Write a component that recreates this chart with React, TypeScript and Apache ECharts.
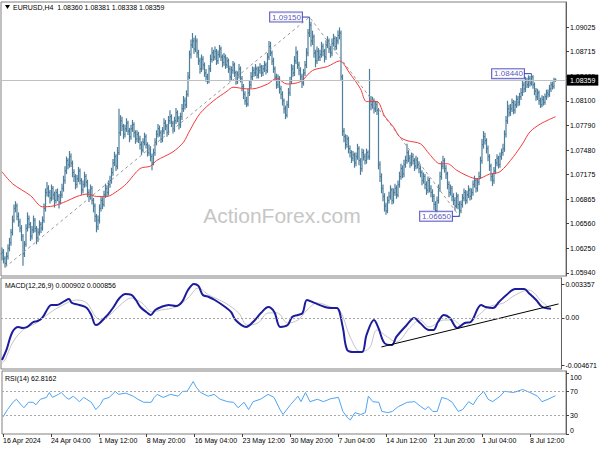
import React, { useEffect, useRef } from "react";
import * as echarts from "echarts";

const FONT = "'Liberation Sans', Arial, sans-serif";

// ---- time axis (bar index -> label) ----
const timeLabelIdx = [0, 32, 64, 96, 128, 160, 192, 224, 256, 288, 320, 352];
const timeLabels = [
  "16 Apr 2024", "24 Apr 04:00", "1 May 12:00", "8 May 20:00", "16 May 04:00", "23 May 12:00",
  "30 May 20:00", "7 Jun 04:00", "14 Jun 12:00", "21 Jun 20:00", "1 Jul 04:00", "8 Jul 12:00",
];

// ---- axis tick labels ----
const priceTicks = [1.09025, 1.08715, 1.08405, 1.081, 1.0779, 1.0748, 1.07175, 1.06865, 1.0656, 1.0625, 1.0594];
const macdTicks = [0.003357, 0, -0.004671];
const rsiTicks = [0, 30, 70, 100];

// ---- EURUSD H4 bars (open = previous close) ----
const firstOpen = 1.0618;
const closes = [
  1.0620, 1.0612, 1.0606, 1.0615, 1.0625,
  1.0632, 1.0645, 1.0660, 1.0675, 1.0678, 1.0665, 1.0658, 1.0650,
  1.0640, 1.0618, 1.0630, 1.0650, 1.0662, 1.0655, 1.0640, 1.0648, 1.0660, 1.0650, 1.0638, 1.0645, 1.0655, 1.0650, 1.0660,
  1.0675, 1.0695, 1.0700,
  1.0695, 1.0688, 1.0700, 1.0692, 1.0685, 1.0695, 1.0690, 1.0683, 1.0692, 1.0700,
  1.0710, 1.0722, 1.0735, 1.0730, 1.0740, 1.0732, 1.0720,
  1.0715, 1.0705, 1.0712, 1.0722, 1.0710, 1.0698, 1.0705, 1.0715, 1.0708, 1.0695, 1.0690, 1.0700, 1.0685, 1.0678,
  1.0665, 1.0652, 1.0660,
  1.0675, 1.0685, 1.0680, 1.0692, 1.0700, 1.0695, 1.0705, 1.0710,
  1.0720, 1.0732, 1.0740, 1.0728, 1.0745,
  1.0770, 1.0785, 1.0778, 1.0768, 1.0775, 1.0782, 1.0772, 1.0765, 1.0775, 1.0780, 1.0770, 1.0762, 1.0768,
  1.0762, 1.0755, 1.0748, 1.0758, 1.0765, 1.0755, 1.0745, 1.0750, 1.0740, 1.0732, 1.0745,
  1.0758, 1.0768, 1.0775, 1.0770, 1.0762, 1.0772, 1.0782, 1.0778, 1.0770, 1.0785, 1.0790, 1.0782, 1.0775, 1.0785, 1.0795, 1.0788, 1.0780, 1.0790,
  1.0800, 1.0810, 1.0805, 1.0818,
  1.0840, 1.0868, 1.0880, 1.0885,
  1.0875, 1.0885, 1.0870,
  1.0860, 1.0850, 1.0862, 1.0855, 1.0845, 1.0840, 1.0835,
  1.0850, 1.0862, 1.0870, 1.0865, 1.0872, 1.0860, 1.0868, 1.0875, 1.0865, 1.0858, 1.0865, 1.0855, 1.0860,
  1.0850, 1.0840, 1.0848, 1.0855, 1.0845, 1.0835, 1.0842, 1.0850, 1.0838,
  1.0828, 1.0818, 1.0810, 1.0806, 1.0820, 1.0830,
  1.0840, 1.0848, 1.0845, 1.0850, 1.0842, 1.0848, 1.0852, 1.0845, 1.0850, 1.0855, 1.0848,
  1.0865, 1.0878, 1.0870, 1.0860,
  1.0850, 1.0840, 1.0830, 1.0838, 1.0825, 1.0818, 1.0810, 1.0800, 1.0792, 1.0805,
  1.0820, 1.0835, 1.0850, 1.0845, 1.0860, 1.0870, 1.0855, 1.0848,
  1.0840, 1.0832, 1.0845, 1.0855, 1.0870,
  1.0895, 1.0905, 1.0885,
  1.0890, 1.0870, 1.0860, 1.0872, 1.0865,
  1.0868, 1.0878, 1.0872, 1.0865, 1.0880, 1.0885, 1.0875, 1.0870, 1.0882, 1.0888, 1.0878, 1.0885, 1.0892, 1.0895,
  1.0840, 1.0772,
  1.0765, 1.0755, 1.0762, 1.0750, 1.0745, 1.0738, 1.0742, 1.0732, 1.0740, 1.0750, 1.0735, 1.0725, 1.0745,
  1.0740, 1.0735, 1.0745, 1.0740,
  1.0810,
  1.0805, 1.0810, 1.0800, 1.0805, 1.0798,
  1.0730,
  1.0715, 1.0700, 1.0690, 1.0678, 1.0672, 1.0685,
  1.0690, 1.0698, 1.0685, 1.0695, 1.0700, 1.0692,
  1.0705, 1.0715, 1.0725, 1.0718, 1.0730, 1.0735, 1.0745,
  1.0738, 1.0732, 1.0740, 1.0735, 1.0728, 1.0736, 1.0730, 1.0725,
  1.0720, 1.0710, 1.0715, 1.0705, 1.0698, 1.0710, 1.0700, 1.0695, 1.0690,
  1.0680, 1.0672, 1.0685,
  1.0700, 1.0715, 1.0728, 1.0735, 1.0725, 1.0718,
  1.0705, 1.0695, 1.0700, 1.0690, 1.0685, 1.0678, 1.0690, 1.0680, 1.0672,
  1.0680, 1.0688, 1.0695, 1.0685, 1.0692, 1.0698, 1.0690,
  1.0695, 1.0705, 1.0710, 1.0700, 1.0708, 1.0715,
  1.0735, 1.0755, 1.0765, 1.0760, 1.0750,
  1.0740, 1.0728, 1.0715, 1.0710, 1.0722, 1.0732, 1.0738, 1.0730, 1.0740, 1.0745, 1.0750,
  1.0768, 1.0785, 1.0800, 1.0795,
  1.0800, 1.0808, 1.0798, 1.0805, 1.0812, 1.0808, 1.0815,
  1.0820, 1.0830, 1.0825, 1.0835, 1.0830, 1.0838, 1.0832, 1.0840, 1.0830,
  1.0822, 1.0815, 1.0820, 1.0810, 1.0805, 1.0812, 1.0808,
  1.0815, 1.0820, 1.0818, 1.0825, 1.0830, 1.0828, 1.0836, 1.08359,
];
const highs = [
  1.0626, 1.0624, 1.0615, 1.0620, 1.0630, 1.0638, 1.0649, 1.0666, 1.0680, 1.0684, 1.0681, 1.0670, 1.0662,
  1.0654, 1.0643, 1.0634, 1.0655, 1.0670, 1.0666, 1.0658, 1.0653, 1.0666, 1.0663, 1.0653, 1.0650, 1.0660, 1.0658, 1.0665,
  1.0681, 1.0700, 1.0708,
  1.0704, 1.0698, 1.0705, 1.0703, 1.0696, 1.0699, 1.0700, 1.0693, 1.0697, 1.0706,
  1.0716, 1.0728, 1.0740, 1.0738, 1.0747, 1.0744, 1.0735,
  1.0724, 1.0718, 1.0717, 1.0727, 1.0725, 1.0713, 1.0710, 1.0721, 1.0718, 1.0711, 1.0699, 1.0705, 1.0703, 1.0688,
  1.0681, 1.0668, 1.0666,
  1.0680, 1.0690, 1.0689, 1.0697, 1.0706, 1.0704, 1.0710, 1.0716,
  1.0726, 1.0737, 1.0746, 1.0743, 1.0752,
  1.0800, 1.0792, 1.0790, 1.0781, 1.0780, 1.0788, 1.0785, 1.0776, 1.0780, 1.0786, 1.0783, 1.0773, 1.0773,
  1.0771, 1.0766, 1.0759, 1.0763, 1.0770, 1.0768, 1.0758, 1.0755, 1.0753, 1.0744, 1.0750,
  1.0763, 1.0773, 1.0781, 1.0779, 1.0773, 1.0777, 1.0788, 1.0786, 1.0781, 1.0791, 1.0798, 1.0793, 1.0785, 1.0790, 1.0801, 1.0798, 1.0791, 1.0795,
  1.0806, 1.0816, 1.0814, 1.0823,
  1.0846, 1.0873, 1.0887, 1.0895,
  1.0889, 1.0892, 1.0888,
  1.0874, 1.0864, 1.0868, 1.0866, 1.0858, 1.0850, 1.0844,
  1.0855, 1.0868, 1.0877, 1.0874, 1.0878, 1.0875, 1.0873, 1.0880, 1.0878, 1.0868, 1.0870, 1.0868, 1.0865,
  1.0863, 1.0854, 1.0853, 1.0860, 1.0858, 1.0848, 1.0847, 1.0856, 1.0853,
  1.0841, 1.0831, 1.0822, 1.0815, 1.0825, 1.0836,
  1.0846, 1.0853, 1.0852, 1.0856, 1.0853, 1.0853, 1.0857, 1.0855, 1.0855, 1.0860, 1.0858,
  1.0870, 1.0885, 1.0884, 1.0873,
  1.0864, 1.0853, 1.0844, 1.0843, 1.0841, 1.0829, 1.0822, 1.0813, 1.0804, 1.0810,
  1.0826, 1.0840, 1.0856, 1.0855, 1.0866, 1.0878, 1.0873, 1.0859,
  1.0852, 1.0844, 1.0850, 1.0860, 1.0876,
  1.0900, 1.0915, 1.0909,
  1.0898, 1.0893, 1.0874, 1.0878, 1.0876,
  1.0874, 1.0884, 1.0882, 1.0875, 1.0886, 1.0891, 1.0888, 1.0879, 1.0888, 1.0894, 1.0891, 1.0890, 1.0898, 1.0902,
  1.0898, 1.0843,
  1.0776, 1.0768, 1.0767, 1.0765, 1.0754, 1.0748, 1.0747, 1.0745, 1.0745, 1.0756, 1.0753, 1.0738, 1.0750,
  1.0749, 1.0744, 1.0750, 1.0748,
  1.0850,
  1.0816, 1.0815, 1.0813, 1.0810, 1.0809,
  1.0801,
  1.0734, 1.0719, 1.0705, 1.0694, 1.0682, 1.0690,
  1.0696, 1.0704, 1.0701, 1.0700, 1.0706, 1.0704,
  1.0710, 1.0721, 1.0731, 1.0729, 1.0736, 1.0741, 1.0756,
  1.0748, 1.0742, 1.0745, 1.0744, 1.0738, 1.0741, 1.0739, 1.0734,
  1.0729, 1.0723, 1.0720, 1.0718, 1.0709, 1.0715, 1.0713, 1.0704, 1.0699,
  1.0693, 1.0684, 1.0690,
  1.0705, 1.0721, 1.0734, 1.0741, 1.0738, 1.0729,
  1.0721, 1.0709, 1.0705, 1.0703, 1.0694, 1.0689, 1.0695, 1.0693, 1.0684,
  1.0685, 1.0693, 1.0700, 1.0698, 1.0697, 1.0704, 1.0701,
  1.0700, 1.0710, 1.0716, 1.0713, 1.0713, 1.0721,
  1.0740, 1.0762, 1.0772, 1.0770, 1.0763,
  1.0754, 1.0743, 1.0731, 1.0719, 1.0727, 1.0737, 1.0743, 1.0741, 1.0745, 1.0750, 1.0756,
  1.0773, 1.0791, 1.0810, 1.0805,
  1.0806, 1.0813, 1.0811, 1.0810, 1.0817, 1.0816, 1.0820,
  1.0826, 1.0836, 1.0834, 1.0840, 1.0839, 1.0842, 1.0841, 1.0844, 1.0842,
  1.0833, 1.0826, 1.0825, 1.0823, 1.0814, 1.0817, 1.0816,
  1.0819, 1.0824, 1.0824, 1.0830, 1.0834, 1.0834, 1.0839, 1.08381,
];
const lows = [
  1.0610, 1.0606, 1.0601, 1.0603, 1.0611, 1.0621, 1.0628, 1.0641, 1.0657, 1.0670, 1.0660, 1.0652, 1.0645,
  1.0634, 1.0603, 1.0614, 1.0627, 1.0646, 1.0650, 1.0634, 1.0636, 1.0644, 1.0645, 1.0630, 1.0633, 1.0641, 1.0644, 1.0647,
  1.0657, 1.0671, 1.0690,
  1.0689, 1.0681, 1.0684, 1.0686, 1.0676, 1.0681, 1.0684, 1.0675, 1.0680, 1.0688,
  1.0696, 1.0706, 1.0718, 1.0724, 1.0726, 1.0727, 1.0714,
  1.0708, 1.0699, 1.0701, 1.0708, 1.0705, 1.0692, 1.0694, 1.0701, 1.0702, 1.0689, 1.0683, 1.0686, 1.0680, 1.0670,
  1.0658, 1.0645, 1.0648,
  1.0656, 1.0671, 1.0674, 1.0677, 1.0688, 1.0690, 1.0691, 1.0701,
  1.0706, 1.0716, 1.0728, 1.0722, 1.0724,
  1.0742, 1.0766, 1.0772, 1.0762, 1.0764, 1.0771, 1.0767, 1.0758, 1.0761, 1.0771, 1.0764, 1.0756, 1.0758,
  1.0757, 1.0749, 1.0742, 1.0745, 1.0754, 1.0750, 1.0740, 1.0741, 1.0734, 1.0723, 1.0729,
  1.0741, 1.0754, 1.0764, 1.0765, 1.0757, 1.0758, 1.0768, 1.0773, 1.0765, 1.0767, 1.0781, 1.0777, 1.0769, 1.0771, 1.0781, 1.0783, 1.0774, 1.0776,
  1.0786, 1.0796, 1.0799, 1.0801,
  1.0815, 1.0837, 1.0863, 1.0876,
  1.0869, 1.0871, 1.0864,
  1.0855, 1.0844, 1.0846, 1.0849, 1.0840, 1.0834, 1.0831,
  1.0832, 1.0846, 1.0858, 1.0860, 1.0861, 1.0855, 1.0856, 1.0864, 1.0860, 1.0852, 1.0854, 1.0850, 1.0851,
  1.0845, 1.0834, 1.0836, 1.0844, 1.0840, 1.0830, 1.0831, 1.0838, 1.0833,
  1.0822, 1.0812, 1.0805, 1.0802, 1.0803, 1.0816,
  1.0826, 1.0836, 1.0840, 1.0841, 1.0838, 1.0838, 1.0844, 1.0840, 1.0841, 1.0846, 1.0843,
  1.0845, 1.0861, 1.0866, 1.0855,
  1.0845, 1.0835, 1.0825, 1.0826, 1.0819, 1.0812, 1.0804, 1.0794, 1.0787, 1.0789,
  1.0801, 1.0816, 1.0831, 1.0840, 1.0841, 1.0856, 1.0850, 1.0842,
  1.0835, 1.0826, 1.0829, 1.0841, 1.0851,
  1.0866, 1.0890, 1.0878,
  1.0880, 1.0864, 1.0852, 1.0856, 1.0860,
  1.0860, 1.0864, 1.0866, 1.0858, 1.0861, 1.0876, 1.0870, 1.0864, 1.0866, 1.0878, 1.0873, 1.0874, 1.0881, 1.0887,
  1.0835, 1.0766,
  1.0758, 1.0749, 1.0751, 1.0744, 1.0739, 1.0732, 1.0734, 1.0726, 1.0728, 1.0736, 1.0729, 1.0717, 1.0721,
  1.0735, 1.0730, 1.0731, 1.0736,
  1.0736,
  1.0798, 1.0800, 1.0794, 1.0796, 1.0792,
  1.0724,
  1.0708, 1.0694, 1.0684, 1.0671, 1.0667, 1.0669,
  1.0681, 1.0686, 1.0680, 1.0681, 1.0691, 1.0687,
  1.0689, 1.0701, 1.0711, 1.0713, 1.0714, 1.0726, 1.0731,
  1.0733, 1.0726, 1.0728, 1.0730, 1.0722, 1.0724, 1.0725, 1.0719,
  1.0714, 1.0704, 1.0706, 1.0699, 1.0692, 1.0694, 1.0695, 1.0689, 1.0683,
  1.0673, 1.0666, 1.0668,
  1.0681, 1.0696, 1.0711, 1.0724, 1.0720, 1.0712,
  1.0699, 1.0689, 1.0691, 1.0684, 1.0679, 1.0672, 1.0675, 1.0674, 1.0665,
  1.0669, 1.0676, 1.0684, 1.0680, 1.0681, 1.0688, 1.0685,
  1.0686, 1.0691, 1.0701, 1.0695, 1.0696, 1.0704,
  1.0712, 1.0731, 1.0750, 1.0755, 1.0744,
  1.0734, 1.0722, 1.0709, 1.0703, 1.0706, 1.0718, 1.0728, 1.0725, 1.0726, 1.0736, 1.0741,
  1.0746, 1.0764, 1.0781, 1.0790,
  1.0791, 1.0796, 1.0793, 1.0794, 1.0801, 1.0803, 1.0804,
  1.0811, 1.0816, 1.0820, 1.0821, 1.0826, 1.0826, 1.0828, 1.0829, 1.0825,
  1.0817, 1.0810, 1.0811, 1.0805, 1.0801, 1.0802, 1.0804,
  1.0805, 1.0811, 1.0814, 1.0815, 1.0821, 1.0824, 1.0825, 1.08338,
];

// ---- moving average (red), read as [bar index, price] ----
const maIdx = [0, 7, 19, 27, 34, 43, 50, 57, 63, 70, 77, 83, 92, 99, 103, 114, 121, 125, 132, 141, 150, 154, 163, 167, 177, 183, 190, 199, 207, 217, 225, 232, 239, 243, 250, 255, 261, 265, 270, 279, 285, 292, 297, 303, 310, 317, 325, 332, 341, 347, 352, 359, 369];
const maVal = [1.0721, 1.0706, 1.0691, 1.0677, 1.0678, 1.0684, 1.0690, 1.0693, 1.0690, 1.0690, 1.0697, 1.0706, 1.0725, 1.0728, 1.0735, 1.0746, 1.0758, 1.0772, 1.0794, 1.0810, 1.0822, 1.0827, 1.0825, 1.0825, 1.0831, 1.0838, 1.0831, 1.0834, 1.0848, 1.0853, 1.0860, 1.0844, 1.0825, 1.0809, 1.0809, 1.0791, 1.0777, 1.0765, 1.0760, 1.0756, 1.0743, 1.0731, 1.0731, 1.0723, 1.0716, 1.0712, 1.0718, 1.0721, 1.0740, 1.0756, 1.0771, 1.0781, 1.0790];

// ---- zigzag swing points ----
const zigIdx = [2, 205, 305];
const zigVal = [1.0601, 1.0915, 1.0665];
const swingIdx = [205, 353, 305];
const swingVal = [1.0915, 1.0844, 1.0665];

// ---- MACD(12,26,9) ----
const macdIdx = [0, 3, 7, 11, 14, 17, 21, 24, 27, 31, 33, 37, 42, 45, 47, 52, 57, 60, 63, 65, 69, 72, 75, 79, 83, 87, 90, 93, 97, 100, 103, 107, 112, 117, 121, 125, 129, 132, 135, 139, 143, 150, 154, 157, 164, 170, 174, 179, 183, 187, 192, 195, 199, 202, 205, 210, 217, 221, 225, 229, 232, 237, 242, 245, 250, 253, 257, 262, 265, 272, 277, 281, 287, 290, 293, 297, 301, 306, 311, 315, 322, 325, 330, 334, 339, 345, 351, 354, 359, 363, 369];
const macdVal = [-0.00417, -0.00318, -0.0014, -0.0009, -0.001, -0.0009, -0.00041, -0.00031, -0.00001, 0.00098, 0.00128, 0.00128, 0.00167, 0.00187, 0.00148, 0.00128, 0.00098, 0.00029, -0.00071, -0.00061, -0.00001, 0.00048, 0.00108, 0.00197, 0.00237, 0.00227, 0.00177, 0.00108, 0.00058, 0.00029, 0.00078, 0.00108, 0.00128, 0.00118, 0.00158, 0.00276, 0.003357, 0.00316, 0.00227, 0.00207, 0.00177, 0.00108, 0.00058, -0.00021, -0.0009, -0.00021, 0.00048, 0.00108, 0.00058, -0.0009, -0.00071, 0.00009, 0.00029, 0.00048, 0.00177, 0.00148, 0.00108, 0.00098, 0.00098, -0.0009, -0.00318, -0.00338, -0.00338, -0.00169, -0.00021, -0.001, -0.00249, -0.00269, -0.00189, -0.00071, -0.00001, -0.00051, -0.0012, -0.0012, -0.00041, 0.00029, -0.00001, -0.001, -0.00051, -0.00041, 0.00128, 0.00108, 0.00098, 0.00158, 0.00227, 0.00286, 0.00286, 0.00247, 0.00177, 0.00108, 0.000902];
const signalIdx = [0, 2, 7, 14, 23, 32, 41, 50, 57, 63, 67, 74, 81, 87, 94, 101, 107, 117, 125, 132, 139, 150, 159, 165, 172, 179, 185, 192, 199, 205, 212, 221, 227, 234, 241, 247, 252, 259, 265, 274, 281, 287, 297, 303, 310, 319, 327, 337, 345, 354, 363, 369];
const signalVal = [-0.0045, -0.00417, -0.00249, -0.0012, -0.00051, 0.00049, 0.00128, 0.00177, 0.00148, 0.00009, -0.00021, 0.00049, 0.00148, 0.00197, 0.00148, 0.00058, 0.00078, 0.00108, 0.00197, 0.00296, 0.00227, 0.00148, 0.00049, -0.00071, -0.00051, 0.00049, 0.00049, -0.00051, -0.00021, 0.00078, 0.00148, 0.00108, 0.00078, -0.00189, -0.00338, -0.00298, -0.0012, -0.00189, -0.00239, -0.001, -0.00021, -0.0009, -0.00021, -0.00021, -0.0009, 0.00009, 0.00108, 0.00148, 0.00227, 0.00276, 0.00158, 0.000856];
const macdTrendIdx = [255, 374];
const macdTrendVal = [-0.00288, 0.00138];

// ---- RSI(14) ----
const rsiIdx = [0, 3, 7, 9, 12, 14, 17, 20, 22, 25, 29, 31, 33, 37, 39, 42, 44, 47, 51, 54, 59, 62, 65, 67, 71, 75, 77, 82, 87, 90, 94, 99, 101, 103, 107, 112, 117, 120, 123, 127, 129, 132, 137, 141, 145, 150, 154, 157, 161, 164, 167, 172, 177, 181, 185, 187, 192, 197, 199, 202, 205, 210, 214, 219, 224, 227, 230, 232, 235, 239, 242, 244, 247, 251, 253, 257, 260, 264, 270, 275, 279, 282, 284, 287, 290, 293, 297, 300, 304, 307, 311, 314, 317, 321, 324, 327, 332, 335, 341, 347, 350, 352, 357, 360, 364, 369];
const rsiVal = [28, 40, 53, 57, 48, 43, 52, 52, 48, 57, 60, 68, 60, 65, 68, 60, 57, 62, 53, 60, 52, 40, 48, 57, 60, 70, 65, 67, 62, 57, 52, 52, 60, 65, 60, 65, 62, 70, 70, 86, 77, 68, 62, 65, 57, 53, 52, 43, 52, 40, 53, 57, 65, 60, 40, 32, 48, 62, 53, 68, 53, 57, 53, 58, 60, 37, 27, 23, 35, 32, 35, 62, 53, 52, 37, 35, 37, 45, 52, 53, 45, 40, 45, 37, 37, 60, 57, 52, 37, 40, 53, 48, 60, 70, 57, 53, 62, 70, 68, 73, 70, 68, 62, 53, 57, 62.8162];

const pair = (xs: number[], ys: number[]) => xs.map((x, k) => [x, ys[k]]);

export default function App() {
  const ref = useRef<HTMLDivElement>(null);
  useEffect(() => {
    const chart = echarts.init(ref.current!, null, { renderer: "svg" });
    const n = Math.min(closes.length, highs.length, lows.length);
    const bars = [];
    for (let i = 0; i < n; i++) {
      bars.push([i, i === 0 ? firstOpen : closes[i - 1], highs[i], lows[i], closes[i]]);
    }
    const last = n - 1;
    const lastOpen = last === 0 ? firstOpen : closes[last - 1];
    const lastClose = closes[last];
    const xMin = -0.667;
    const xMax = 376;
    const barColor = "#4d7e9b";
    const txt = { fontSize: 7, fontFamily: FONT, color: "#000" };

    const gridBase = { left: 1, width: 565, show: true, borderColor: "#808080", borderWidth: 1, backgroundColor: "transparent" };

    const xAxes = [0, 1, 2].map((k) => ({
      type: "value",
      gridIndex: k,
      min: xMin,
      max: xMax,
      axisLine: { show: false, onZero: false },
      splitLine: { show: false },
      axisTick: k === 2
        ? { show: true, customValues: timeLabelIdx, length: 3, lineStyle: { color: "#404040" } }
        : { show: false },
      axisLabel: k === 2
        ? {
            show: true,
            customValues: timeLabelIdx,
            formatter: (v: number) => {
              const j = timeLabelIdx.indexOf(Math.round(v));
              return j >= 0 ? timeLabels[j] : "";
            },
            align: "left",
            margin: 3,
            hideOverlap: false,
            ...txt,
          }
        : { show: false },
    }));

    const yCommon = {
      type: "value",
      position: "right",
      splitLine: { show: false },
      axisLine: { show: true, onZero: false, lineStyle: { color: "#606060" } },
    };

    const option: any = {
      animation: false,
      backgroundColor: "#ffffff",
      grid: [
        { ...gridBase, top: 2, height: 274 },
        { ...gridBase, top: 278, height: 91 },
        { ...gridBase, top: 371, height: 63 },
      ],
      xAxis: xAxes,
      yAxis: [
        {
          ...yCommon,
          gridIndex: 0,
          min: 1.05902,
          max: 1.09339,
          axisTick: { show: true, customValues: priceTicks, length: 3, lineStyle: { color: "#404040" } },
          axisLabel: { customValues: priceTicks, formatter: (v: number) => v.toFixed(5), margin: 4, hideOverlap: false, ...txt },
        },
        {
          ...yCommon,
          gridIndex: 1,
          min: -0.005067,
          max: 0.003952,
          axisTick: { show: true, customValues: macdTicks, length: 3, lineStyle: { color: "#404040" } },
          axisLabel: {
            customValues: macdTicks,
            formatter: (v: number) => (Math.abs(v) < 1e-9 ? "0.00" : v.toFixed(6)),
            margin: 4,
            hideOverlap: false,
            ...txt,
          },
        },
        {
          ...yCommon,
          gridIndex: 2,
          min: 0,
          max: 103.3,
          axisTick: { show: true, customValues: rsiTicks, length: 3, lineStyle: { color: "#404040" } },
          axisLabel: {
            customValues: rsiTicks,
            formatter: (v: number) => (v === 100 ? "{d|100}" : v === 0 ? "{u|0}" : String(v)),
            margin: 4,
            hideOverlap: false,
            ...txt,
            rich: {
              d: { padding: [8, 0, 0, 0], ...txt },
              u: { padding: [0, 0, 8, 0], ...txt },
            },
          },
        },
      ],
      graphic: [
        {
          type: "text",
          z: 1,
          style: { text: "ActionForex.com", x: 282, y: 215, align: "center", verticalAlign: "middle", fontSize: 21, fontFamily: FONT, fill: "#c6c6c6" },
        },
        { type: "polygon", z: 10, shape: { points: [[5, 5], [10, 5], [7.5, 9]] }, style: { fill: "#000" } },
        {
          type: "text",
          z: 10,
          style: {
            text: `EURUSD,H4  ${lastOpen.toFixed(5)} ${highs[last].toFixed(5)} ${lows[last].toFixed(5)} ${lastClose.toFixed(5)}`,
            x: 13, y: 7, verticalAlign: "middle", fontSize: 7, fontFamily: FONT, fill: "#000",
          },
        },
        {
          type: "text",
          z: 10,
          style: {
            text: `MACD(12,26,9) ${macdVal[macdVal.length - 1].toFixed(6)} ${signalVal[signalVal.length - 1].toFixed(6)}`,
            x: 5, y: 285, verticalAlign: "middle", fontSize: 7, fontFamily: FONT, fill: "#000",
          },
        },
        {
          type: "text",
          z: 10,
          style: {
            text: `RSI(14) ${rsiVal[rsiVal.length - 1].toFixed(4)}`,
            x: 5, y: 378, verticalAlign: "middle", fontSize: 7, fontFamily: FONT, fill: "#000",
          },
        },
      ],
      series: [
        {
          type: "line",
          xAxisIndex: 0,
          yAxisIndex: 0,
          data: pair(zigIdx, zigVal),
          symbol: "none",
          silent: true,
          lineStyle: { color: "#9a9a9a", width: 1, type: [3, 3] },
          markLine: {
            symbol: "none",
            silent: true,
            precision: 5,
            lineStyle: { color: "#c0c0c0", width: 1, type: "solid" },
            label: {
              show: true,
              position: "end",
              distance: 1,
              formatter: () => lastClose.toFixed(5),
              backgroundColor: "#000",
              color: "#fff",
              fontSize: 7,
              fontFamily: FONT,
              padding: [2, 3, 2, 3],
            },
            data: [{ yAxis: lastClose }],
          },
        },
        {
          type: "custom",
          xAxisIndex: 0,
          yAxisIndex: 0,
          data: bars,
          encode: { x: 0, y: [1, 2, 3, 4] },
          renderItem: (params: any, api: any) => {
            const i = api.value(0);
            const pO = api.coord([i, api.value(1)]);
            const pH = api.coord([i, api.value(2)]);
            const pL = api.coord([i, api.value(3)]);
            const pC = api.coord([i, api.value(4)]);
            const x = pO[0];
            return {
              type: "group",
              children: [
                { type: "line", shape: { x1: x, y1: pH[1], x2: x, y2: pL[1] }, style: { stroke: barColor, lineWidth: 1.2 } },
                { type: "line", shape: { x1: x - 1.2, y1: pO[1], x2: x, y2: pO[1] }, style: { stroke: barColor, lineWidth: 1 } },
                { type: "line", shape: { x1: x, y1: pC[1], x2: x + 1.2, y2: pC[1] }, style: { stroke: barColor, lineWidth: 1 } },
              ],
            };
          },
        },
        {
          type: "line",
          xAxisIndex: 0,
          yAxisIndex: 0,
          data: pair(maIdx, maVal),
          symbol: "none",
          smooth: 0.3,
          silent: true,
          lineStyle: { color: "#f23a3a", width: 1 },
        },
        ...swingIdx.map((ix, k) => ({
          type: "line",
          xAxisIndex: 0,
          yAxisIndex: 0,
          data: [[ix - 4.7, swingVal[k]], [ix, swingVal[k]]],
          symbol: "none",
          silent: true,
          lineStyle: { color: "#3a3ab8", width: 1 },
          z: 4,
        })),
        {
          type: "scatter",
          xAxisIndex: 0,
          yAxisIndex: 0,
          data: pair(swingIdx, swingVal),
          symbolSize: 1,
          itemStyle: { color: "rgba(0,0,0,0)" },
          silent: true,
          z: 5,
          label: {
            show: true,
            position: "left",
            distance: 7,
            formatter: (p: any) => p.value[1].toFixed(5),
            color: "#2a2aa8",
            fontSize: 8,
            fontFamily: FONT,
            backgroundColor: "#fff",
            borderColor: "#3a3ab8",
            borderWidth: 1,
            padding: [1, 1, 0, 2],
          },
        },
        {
          type: "line",
          xAxisIndex: 1,
          yAxisIndex: 1,
          data: pair(signalIdx, signalVal),
          symbol: "none",
          smooth: 0.35,
          silent: true,
          lineStyle: { color: "#c4c4c4", width: 1 },
          markLine: {
            symbol: "none",
            silent: true,
            precision: 6,
            label: { show: false },
            lineStyle: { color: "#a8a8a8", width: 1, type: [2, 2] },
            data: [{ yAxis: 0 }],
          },
        },
        {
          type: "line",
          xAxisIndex: 1,
          yAxisIndex: 1,
          data: pair(macdIdx, macdVal),
          symbol: "none",
          smooth: 0.35,
          silent: true,
          lineStyle: { color: "#1c1c9c", width: 2 },
        },
        {
          type: "line",
          xAxisIndex: 1,
          yAxisIndex: 1,
          data: pair(macdTrendIdx, macdTrendVal),
          symbol: "none",
          silent: true,
          lineStyle: { color: "#000", width: 1 },
        },
        {
          type: "line",
          xAxisIndex: 2,
          yAxisIndex: 2,
          data: pair(rsiIdx, rsiVal),
          symbol: "none",
          silent: true,
          lineStyle: { color: "#4ea3f5", width: 1 },
          markLine: {
            symbol: "none",
            silent: true,
            label: { show: false },
            lineStyle: { color: "#a8a8a8", width: 1, type: [2, 2] },
            data: [{ yAxis: 70 }, { yAxis: 30 }],
          },
        },
      ],
    };
    chart.setOption(option);
    return () => chart.dispose();
  }, []);
  return <div ref={ref} style={{ position: "fixed", left: 0, top: 0, width: 600, height: 450 }} />;
}
